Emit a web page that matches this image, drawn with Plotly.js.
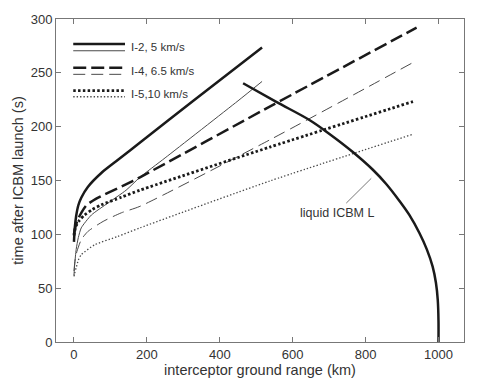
<!DOCTYPE html>
<html>
<head>
<meta charset="utf-8">
<script src="https://cdn.plot.ly/plotly-3.0.1.min.js"></script>
<style>html,body{margin:0;padding:0;background:#fff;}#chart{width:480px;height:390px;}</style>
</head>
<body>
<div id="chart"></div>
<script>
// I-2, 5 km/s (thick / thin)
const i2ThickX = [0, 2, 6, 12, 20, 38, 75, 120, 184, 331, 516];
const i2ThickY = [93, 105, 117, 127, 134, 144, 157, 169, 186, 225, 273.5];
const i2ThinX = [0, 2, 6, 12, 20, 48, 93, 143, 181, 250, 450, 516];
const i2ThinY = [62, 72, 86, 97, 106, 118, 129, 141, 153, 171, 224, 242];
// I-4, 6.5 km/s
const i4ThickX = [0, 2, 5, 11, 20, 34, 60, 93, 134, 181, 537, 940];
const i4ThickY = [100, 104, 108, 114, 120, 127, 133, 138.5, 145, 153, 218.6, 292];
const i4ThinX = [0, 3, 8, 20, 38, 80, 130, 181, 537, 940];
const i4ThinY = [66, 76, 84, 95, 102.6, 112, 120, 126, 187.7, 261.4];
// I-5, 10 km/s
const i5ThickX = [0, 2, 6, 15, 29, 50, 75, 130, 181, 537, 930];
const i5ThickY = [99, 103, 108, 113, 118, 123, 127.4, 134.5, 141, 181, 223.3];
const i5ThinX = [0, 2, 6, 12, 20, 57, 120, 181, 537, 930];
const i5ThinY = [61, 64, 69, 76, 81, 90.3, 98, 106, 149.5, 193];
// liquid ICBM L
const icbmX = [464, 555, 647, 700, 765, 820, 856, 893, 920, 948, 968, 984, 993, 998, 1000, 1000];
const icbmY = [240.3, 223, 206, 193.5, 176.5, 160, 147, 131, 118, 101, 86, 70, 55, 39, 20, 0];

const legendLabels = ["I-2, 5 km/s", "I-4, 6.5 km/s", "I-5,10 km/s"];
const icbmLabel = "liquid ICBM L";
const xTicks = [0, 200, 400, 600, 800, 1000];
const yTicks = [0, 50, 100, 150, 200, 250, 300];

const thickC = '#1a1a1a', thinC = '#4a4a4a';
const styles = {
  thickSolid: {color: thickC, width: 2.5, dash: 'solid'},
  thinSolid: {color: thinC, width: 1, dash: 'solid'},
  thickDash: {color: thickC, width: 2.5, dash: '13px,5px'},
  thinDash: {color: thinC, width: 1, dash: '12px,6px'},
  thickDot: {color: thickC, width: 2.8, dash: '2.5px,2.3px'},
  thinDot: {color: thinC, width: 1.3, dash: '1.4px,2px'}
};
function tr(x, y, st, sm) {
  return {x: x, y: y, type: 'scatter', mode: 'lines',
    line: Object.assign({shape: 'spline', smoothing: sm || 0.6}, st),
    hoverinfo: 'skip', showlegend: false};
}
const data = [
  tr(i5ThinX, i5ThinY, styles.thinDot),
  tr(i4ThinX, i4ThinY, styles.thinDash),
  tr(i2ThinX, i2ThinY, styles.thinSolid),
  tr(i5ThickX, i5ThickY, styles.thickDot),
  tr(i4ThickX, i4ThickY, styles.thickDash),
  tr(i2ThickX, i2ThickY, styles.thickSolid),
  tr(icbmX, icbmY, {color: thickC, width: 2.5, dash: 'solid'}, 1)
];

// legend drawn inside the plot
const legRows = [
  {yThick: 276.7, yThin: 270.5, yText: 273.6, a: styles.thickSolid, b: styles.thinSolid},
  {yThick: 254.7, yThin: 248.6, yText: 251.4, a: styles.thickDash, b: styles.thinDash},
  {yThick: 233.4, yThin: 227.8, yText: 230.6, a: styles.thickDot, b: styles.thinDot}
];
const shapes = [];
const annotations = [];
legRows.forEach((r, i) => {
  shapes.push({type: 'line', xref: 'x', yref: 'y', x0: -2, x1: 140, y0: r.yThick, y1: r.yThick, line: r.a});
  shapes.push({type: 'line', xref: 'x', yref: 'y', x0: -2, x1: 140, y0: r.yThin, y1: r.yThin, line: r.b});
  annotations.push({x: 152, y: r.yText, xref: 'x', yref: 'y', text: legendLabels[i], showarrow: false,
    xanchor: 'left', yanchor: 'middle', font: {family: 'Liberation Sans, Arial, sans-serif', size: 11.5, color: '#333'}});
});
shapes.push({type: 'line', xref: 'x', yref: 'y', x0: 747, y0: 129, x1: 815.6, y1: 152, line: {color: '#555', width: 0.8}});
annotations.push({x: 722, y: 119.7, xref: 'x', yref: 'y', text: icbmLabel, showarrow: false,
  xanchor: 'center', yanchor: 'middle', font: {family: 'Liberation Sans, Arial, sans-serif', size: 12.5, color: '#333'}});

const axisCommon = {
  showline: true, mirror: 'ticks', linecolor: '#777', linewidth: 1,
  ticks: 'inside', ticklen: 5, tickcolor: '#777', tickwidth: 1,
  showgrid: false, zeroline: false,
  tickfont: {family: 'Liberation Sans, Arial, sans-serif', size: 13, color: '#333'}
};
const layout = {
  width: 480, height: 390,
  margin: {l: 56, r: 15.5, t: 19, b: 48},
  paper_bgcolor: '#fff', plot_bgcolor: '#fff',
  showlegend: false,
  xaxis: Object.assign({}, axisCommon, {range: [-49.3, 1070], tickvals: xTicks,
    title: {text: 'interceptor ground range (km)', standoff: 2,
      font: {family: 'Liberation Sans, Arial, sans-serif', size: 14.5, color: '#333'}}}),
  yaxis: Object.assign({}, axisCommon, {range: [0, 300], tickvals: yTicks,
    title: {text: 'time after ICBM launch (s)', standoff: 3,
      font: {family: 'Liberation Sans, Arial, sans-serif', size: 14.5, color: '#333'}}}),
  shapes: shapes,
  annotations: annotations
};
Plotly.newPlot('chart', data, layout, {staticPlot: true, displayModeBar: false});
</script>
</body>
</html>
